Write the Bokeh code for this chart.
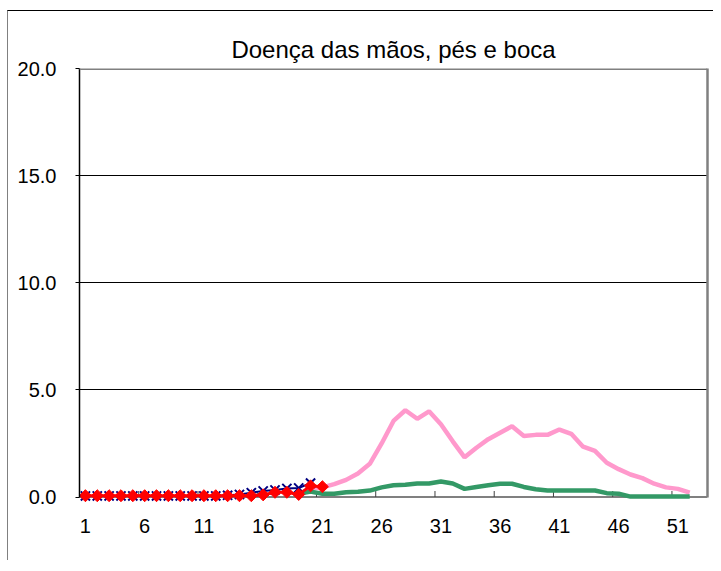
import math
from bokeh.plotting import figure
from bokeh.models import Range1d, FixedTicker, CustomJSTickFormatter, LinearAxis, Span
from bokeh.embed import file_html
from bokeh.resources import INLINE

# ---- data ----
title_text = "Doença das mãos, pés e boca"
x_tick_labels = [1, 6, 11, 16, 21, 26, 31, 36, 41, 46, 51]
y_ticks = [0, 5, 10, 15, 20]
y_max = 20
n_weeks = 53

pink_weeks = list(range(20, 53))
pink_vals = [0.40, 0.45, 0.60, 0.80, 1.10, 1.55, 2.50, 3.55, 4.05, 3.65, 4.00,
             3.40, 2.60, 1.85, 2.30, 2.70, 3.00, 3.30, 2.85, 2.90, 2.90, 3.15,
             2.95, 2.35, 2.15, 1.60, 1.30, 1.05, 0.88, 0.62, 0.45, 0.38, 0.20]

green_weeks = list(range(19, 53))
green_vals = [0.15, 0.25, 0.15, 0.15, 0.22, 0.25, 0.30, 0.45, 0.55, 0.57, 0.63,
              0.63, 0.72, 0.63, 0.38, 0.47, 0.55, 0.62, 0.62, 0.47, 0.36, 0.30,
              0.30, 0.30, 0.30, 0.30, 0.18, 0.15, 0.02, 0.02, 0.02, 0.02, 0.02, 0.02]

navy_weeks = list(range(1, 21))
navy_vals = [0.05, 0.05, 0.05, 0.05, 0.05, 0.05, 0.05, 0.05, 0.05, 0.05,
             0.05, 0.05, 0.08, 0.12, 0.20, 0.28, 0.33, 0.40, 0.42, 0.65]

red_weeks = list(range(1, 22))
red_vals = [0.06, 0.06, 0.06, 0.06, 0.06, 0.06, 0.06, 0.06, 0.06, 0.06,
            0.06, 0.06, 0.06, 0.06, 0.06, 0.10, 0.22, 0.22, 0.12, 0.52, 0.48]

# ---- figure ----
y_min = -0.35
frame_h = 436
px_per_unit = frame_h / (y_max - y_min)

p = figure(width=705, height=549, output_backend="svg", toolbar_location=None,
           x_range=Range1d(0.5, n_weeks + 0.5), y_range=Range1d(y_min, y_max),
           frame_width=628, frame_height=frame_h,
           min_border_left=71, min_border_right=6, min_border_top=57,
           min_border_bottom=56, background_fill_color="white",
           border_fill_color="white")
p.margin = (10, 0, 0, 7)
p.styles = {"border-left": "1px solid #808080", "border-top": "1px solid #000000"}

p.title.text = title_text
p.title.align = "center"
p.title.text_font = "Liberation Sans"
p.title.text_font_size = "24px"
p.title.text_font_style = "normal"
p.title.text_color = "black"
p.title.standoff = 11

p.outline_line_color = None

# y axis
p.yaxis.ticker = FixedTicker(ticks=y_ticks)
p.yaxis.bounds = (0, y_max)
p.yaxis.formatter = CustomJSTickFormatter(code="return tick.toFixed(1);")
p.yaxis.axis_line_color = "black"
p.yaxis.axis_line_width = 1.5
p.yaxis.major_tick_out = 4
p.yaxis.major_tick_in = 0
p.yaxis.major_tick_line_color = "black"
p.yaxis.minor_tick_line_color = None
p.yaxis.major_label_text_font = "Liberation Sans"
p.yaxis.major_label_text_font_size = "20px"
p.yaxis.major_label_text_color = "black"
p.yaxis.major_label_standoff = 19

# right border as an unlabeled axis
right_axis = LinearAxis(bounds=(0, y_max), ticker=FixedTicker(ticks=[]),
                        axis_line_color="#808080", axis_line_width=2.5,
                        major_tick_line_color=None, minor_tick_line_color=None,
                        major_label_text_font_size="0px")
p.add_layout(right_axis, "right")

# x axis: labels only; the axis line is drawn at y = 0
p.xaxis.ticker = FixedTicker(ticks=x_tick_labels)
p.xaxis.axis_line_color = None
p.xaxis.major_tick_line_color = None
p.xaxis.minor_tick_line_color = None
p.xaxis.major_label_text_font = "Liberation Sans"
p.xaxis.major_label_text_font_size = "20px"
p.xaxis.major_label_text_color = "black"
p.xaxis.major_label_standoff = 8

p.xgrid.grid_line_color = None
p.ygrid.ticker = FixedTicker(ticks=y_ticks[1:-1])
p.ygrid.grid_line_color = "black"
p.ygrid.grid_line_width = 1
p.add_layout(Span(location=y_max, dimension="width", line_color="#808080",
                  line_width=3))

# category-boundary tick marks pointing into the plot, 6 px long
tick_x = [t - 0.5 for t in x_tick_labels]
p.segment(x0=tick_x, y0=[0] * len(tick_x), x1=tick_x,
          y1=[6 / px_per_unit] * len(tick_x), line_color="#404040", line_width=1)

# series
p.line(pink_weeks, pink_vals, line_color="#FF99CC", line_width=4.5)
p.line(green_weeks, green_vals, line_color="#339966", line_width=4.5)
p.add_layout(Span(location=0, dimension="width", line_color="#808080",
                  line_width=2, level="underlay"))
p.line(navy_weeks, navy_vals, line_color="#000080", line_width=2)
p.scatter(navy_weeks, navy_vals, marker="x", size=13, line_color="#000080",
          line_width=2)
p.line(red_weeks, red_vals, line_color="#FF0000", line_width=3)
p.scatter(red_weeks, red_vals, marker="square", size=8.5, angle=math.pi / 4,
          fill_color="#FF0000", line_color="#FF0000", line_width=1)

open("out.html", "w").write(file_html(p, INLINE))
